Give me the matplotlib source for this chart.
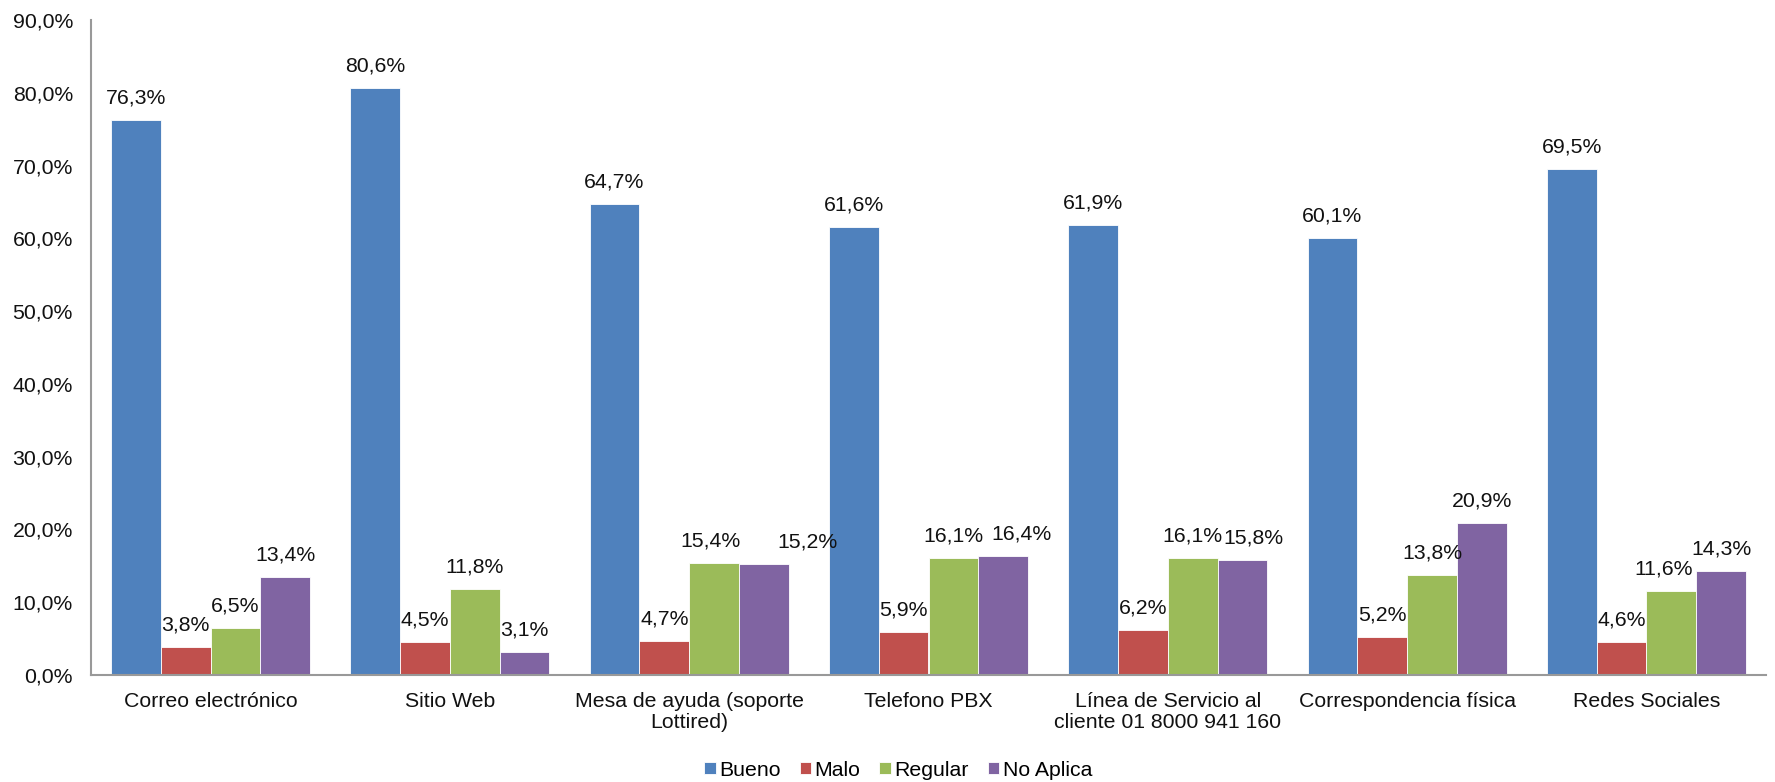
import matplotlib
matplotlib.use("Agg")
import matplotlib.pyplot as plt
import numpy as np

plt.rcParams['font.family'] = ['Liberation Sans', 'DejaVu Sans']

categories = ["Correo electrónico", "Sitio Web", "Mesa de ayuda (soporte\nLottired)",
              "Telefono PBX", "Línea de Servicio al\ncliente 01 8000 941 160",
              "Correspondencia física", "Redes Sociales"]
series_names = ["Bueno", "Malo", "Regular", "No Aplica"]
bueno = [76.3, 80.6, 64.7, 61.6, 61.9, 60.1, 69.5]
malo = [3.8, 4.5, 4.7, 5.9, 6.2, 5.2, 4.6]
regular = [6.5, 11.8, 15.4, 16.1, 16.1, 13.8, 11.6]
no_aplica = [13.4, 3.1, 15.2, 16.4, 15.8, 20.9, 14.3]
yticks = [0, 10, 20, 30, 40, 50, 60, 70, 80, 90]

colors = ["#4F81BD", "#C0504D", "#9BBB59", "#8064A2"]
series = [bueno, malo, regular, no_aplica]

# horizontal nudges (pixels) that keep crowded value labels apart: (series, category) -> dx
label_nudge = {(3, 2): 44, (2, 2): -4, (3, 3): 18, (3, 4): 11, (2, 6): -8}

fig = plt.figure(figsize=(17.75, 7.82), dpi=100)
ax = fig.add_axes([91/1775, 1 - 675/782, (1766 - 91)/1775, (675 - 20)/782])

x = np.arange(len(categories))
w = 0.208
fs = 15.3
for i, (vals, col, name) in enumerate(zip(series, colors, series_names)):
    pos = x + (i - 1.5) * w
    bars = ax.bar(pos, vals, width=w, color=col, edgecolor="white", linewidth=0.6, label=name)
    for j, (b, v) in enumerate(zip(bars, vals)):
        dx = label_nudge.get((i, j), 0) * 72 / 100
        ax.annotate(f"{v:.1f}%".replace(".", ","),
                    (b.get_x() + b.get_width() / 2, v),
                    xytext=(dx, 9), textcoords="offset points",
                    ha="center", va="bottom", fontsize=fs, color="#111111")

ax.set_xlim(-0.5, len(categories) - 0.5)
ax.set_ylim(0, 90)
ax.set_yticks(yticks)
ax.set_yticklabels([f"{t:.1f}%".replace(".", ",") for t in yticks], fontsize=fs)
ax.set_xticks(x)
ax.set_xticklabels(categories, fontsize=fs, linespacing=1.15)
ax.tick_params(axis="both", length=0, colors="#111111")
ax.tick_params(axis="y", pad=13)
ax.tick_params(axis="x", pad=12)
for s in ["top", "right"]:
    ax.spines[s].set_visible(False)
for s in ["left", "bottom"]:
    ax.spines[s].set_color("#999999")
    ax.spines[s].set_linewidth(1.5)

fig.legend(loc="center", bbox_to_anchor=(898/1775, 1 - 770/782), ncol=4, frameon=False,
           fontsize=fs, handlelength=0.55, handleheight=0.55, handletextpad=0.15,
           columnspacing=0.9, borderpad=0)

fig.savefig("out.png", dpi=100, facecolor="white")
